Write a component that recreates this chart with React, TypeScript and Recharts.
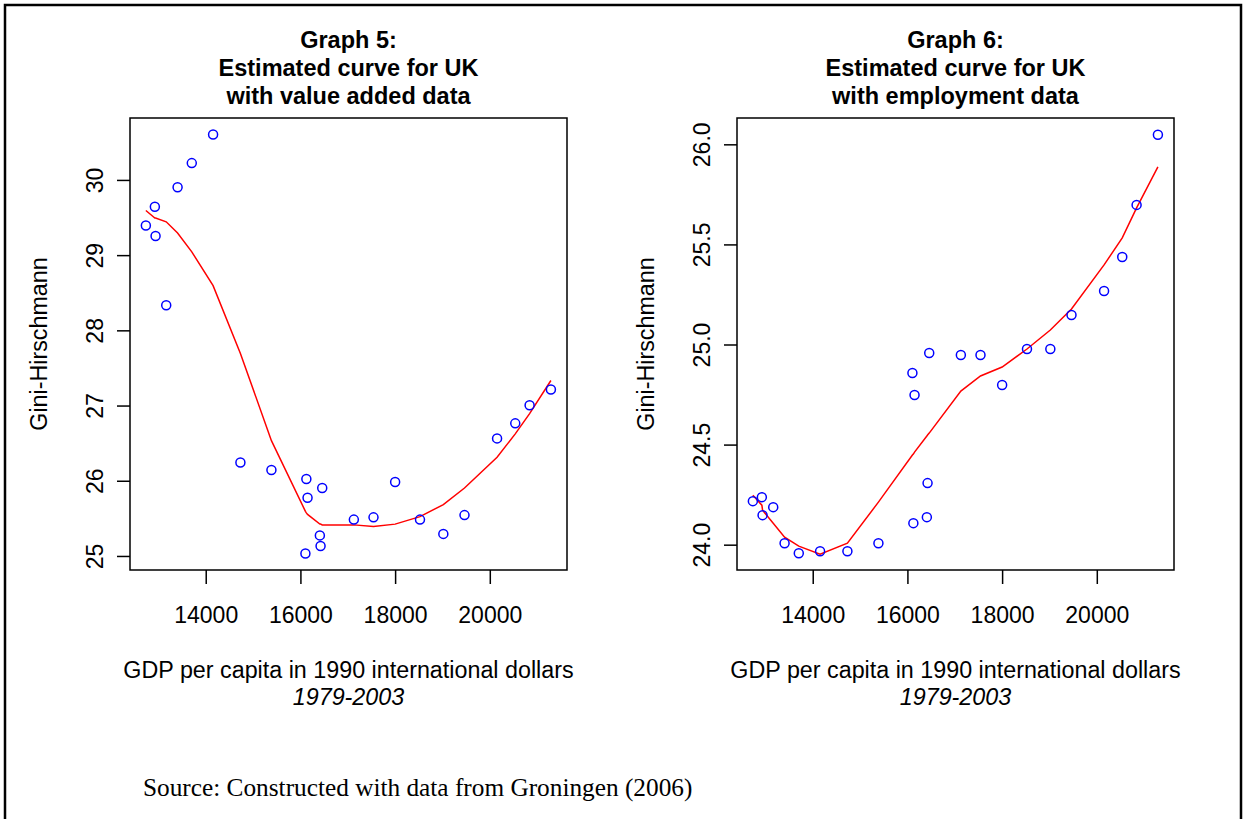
import React from 'react';
import { ComposedChart, Scatter, Line, XAxis, YAxis, ReferenceArea } from 'recharts';

// GDP per capita (1990 intl $), 1979-2003, sorted
const gdp = [12725, 12915, 12930, 13155, 13395, 13695, 14145, 14722, 15377, 16095, 16115, 16140, 16400, 16415, 16450, 17118, 17533, 17990, 18515, 19008, 19455, 20143, 20527, 20830, 21280];

// Graph 5: value added
const giniVA = [29.40, 29.65, 29.26, 28.34, 29.91, 30.23, 30.61, 26.25, 26.15, 25.04, 26.03, 25.78, 25.28, 25.14, 25.91, 25.49, 25.52, 25.99, 25.49, 25.30, 25.55, 26.57, 26.77, 27.01, 27.22];
const fitVA = [29.60, 29.50, 29.50, 29.45, 29.30, 29.05, 28.60, 27.70, 26.54, 25.60, 25.58, 25.56, 25.43, 25.43, 25.42, 25.42, 25.40, 25.43, 25.53, 25.69, 25.91, 26.32, 26.63, 26.90, 27.34];

// Graph 6: employment
const giniEmp = [24.22, 24.24, 24.15, 24.19, 24.01, 23.96, 23.97, 23.97, 24.01, 24.86, 24.11, 24.75, 24.14, 24.31, 24.96, 24.95, 24.95, 24.80, 24.98, 24.98, 25.15, 25.27, 25.44, 25.70, 26.05];
const fitEmp = [24.25, 24.20, 24.175, 24.11, 24.04, 23.995, 23.955, 24.01, 24.215, 24.45, 24.455, 24.465, 24.545, 24.55, 24.56, 24.77, 24.845, 24.89, 24.98, 25.075, 25.18, 25.40, 25.535, 25.685, 25.89];

const xTicks = [14000, 16000, 18000, 20000];
const yTicksVA = [25, 26, 27, 28, 29, 30];
const yTicksEmp = [24.0, 24.5, 25.0, 25.5, 26.0];

const SANS = 'Liberation Sans, Arial, Helvetica, sans-serif';
const xDomain: [number, number] = [12390, 21620];

const Circle = (props: any) => (
    <circle cx={props.cx} cy={props.cy} r={4.5} fill="none" stroke="#0000ff" strokeWidth={1.5} />
);

const makeYTick = (digits: number) => (props: any) => {
    const { x, y, payload } = props;
    return (
        <text
            transform={`translate(${x - 14},${y}) rotate(-90)`}
            textAnchor="middle"
            fontSize={23}
            fontFamily={SANS}
            fill="#000"
        >
            {Number(payload.value).toFixed(digits)}
        </text>
    );
};

interface PanelProps {
    left: number;
    gini: number[];
    fit: number[];
    yDomain: [number, number];
    yTicks: number[];
    digits: number;
}

const Panel: React.FC<PanelProps> = ({ left, gini, fit, yDomain, yTicks, digits }) => {
    const data = gdp.map((g, i) => ({ gdp: g, gini: gini[i], fit: fit[i] }));
    return (
        <div style={{ position: 'absolute', left, top: 0 }}>
            <ComposedChart width={607} height={819} data={data} margin={{ top: 118, right: 40, bottom: 189, left: 90 }}>
                <XAxis
                    type="number"
                    dataKey="gdp"
                    domain={xDomain}
                    ticks={xTicks}
                    allowDataOverflow
                    height={60}
                    tickSize={14}
                    tickMargin={23}
                    axisLine={false}
                    tickLine={{ stroke: '#000', strokeWidth: 1.5 }}
                    tick={{ fill: '#000', fontSize: 23, fontFamily: SANS }}
                    interval={0}
                />
                <YAxis
                    type="number"
                    domain={yDomain}
                    ticks={yTicks}
                    allowDataOverflow
                    width={40}
                    tickSize={13}
                    tickMargin={0}
                    axisLine={false}
                    tickLine={{ stroke: '#000', strokeWidth: 1.5 }}
                    tick={makeYTick(digits)}
                    interval={0}
                />
                <ReferenceArea
                    x1={xDomain[0]}
                    x2={xDomain[1]}
                    y1={yDomain[0]}
                    y2={yDomain[1]}
                    fill="none"
                    stroke="#000"
                    strokeWidth={1.5}
                    ifOverflow="visible"
                />
                <Scatter dataKey="gini" shape={Circle} isAnimationActive={false} />
                <Line type="linear" dataKey="fit" stroke="#ff0000" strokeWidth={1.5} dot={false} isAnimationActive={false} />
            </ComposedChart>
        </div>
    );
};

const Titles: React.FC<{ cx: number; lines: string[] }> = ({ cx, lines }) => (
    <>
        {lines.map((t, i) => (
            <text key={i} x={cx} y={48 + i * 28} textAnchor="middle" fontSize={23.5} fontWeight="bold" fontFamily={SANS} fill="#000">
                {t}
            </text>
        ))}
    </>
);

const AxisTexts: React.FC<{ cx: number; yLabelX: number }> = ({ cx, yLabelX }) => (
    <>
        <text x={cx} y={678} textAnchor="middle" fontSize={23.3} fontFamily={SANS} fill="#000">
            GDP per capita in 1990 international dollars
        </text>
        <text x={cx} y={705} textAnchor="middle" fontSize={23.3} fontStyle="italic" fontFamily={SANS} fill="#000">
            1979-2003
        </text>
        <text transform={`translate(${yLabelX},344) rotate(-90)`} textAnchor="middle" fontSize={23.3} fontFamily={SANS} fill="#000">
            Gini-Hirschmann
        </text>
    </>
);

export default function App() {
    return (
        <div style={{ position: 'absolute', left: 0, top: 0, width: 1246, height: 819, background: '#fff', overflow: 'hidden' }}>
            <Panel left={0} gini={giniVA} fit={fitVA} yDomain={[24.82, 30.83]} yTicks={yTicksVA} digits={0} />
            <Panel left={607} gini={giniEmp} fit={fitEmp} yDomain={[23.876, 26.134]} yTicks={yTicksEmp} digits={1} />
            <svg width={1246} height={819} style={{ position: 'absolute', left: 0, top: 0, pointerEvents: 'none' }}>
                <path d="M5,819 L5,5 L1241,5 L1241,819" fill="none" stroke="#000" strokeWidth={2.5} />
                <Titles cx={348.5} lines={['Graph 5:', 'Estimated curve for UK', 'with value added data']} />
                <Titles cx={955.5} lines={['Graph 6:', 'Estimated curve for UK', 'with employment data']} />
                <AxisTexts cx={348.5} yLabelX={47} />
                <AxisTexts cx={955.5} yLabelX={654} />
                <text x={143} y={796} fontSize={25.3} fontFamily="Liberation Serif, Times New Roman, serif" fill="#000">
                    Source: Constructed with data from Groningen (2006)
                </text>
            </svg>
        </div>
    );
}
